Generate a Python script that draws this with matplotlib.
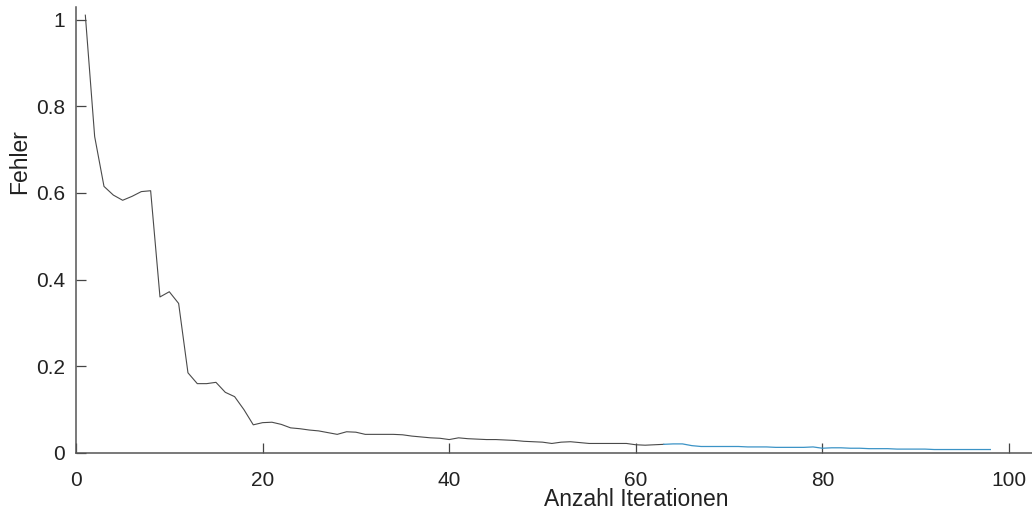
import numpy as np
import matplotlib
matplotlib.use("Agg")
import matplotlib.pyplot as plt

plt.rcParams['font.family'] = ['Liberation Sans', 'DejaVu Sans']

# Fehler pro Iteration (Iterationen 1..98)
iterations = np.arange(1, 99)
fehler = [
    1.01, 0.73, 0.615, 0.595, 0.583, 0.592, 0.603, 0.605, 0.36, 0.372,
    0.345, 0.185, 0.16, 0.16, 0.163, 0.14, 0.13, 0.10, 0.065, 0.07,
    0.071, 0.066, 0.058, 0.056, 0.053, 0.051, 0.047, 0.043, 0.049, 0.048,
    0.043, 0.043, 0.043, 0.043, 0.042, 0.039, 0.037, 0.035, 0.034, 0.031,
    0.035, 0.033, 0.032, 0.031, 0.031, 0.030, 0.029, 0.027, 0.026, 0.025,
    0.022, 0.025, 0.026, 0.024, 0.022, 0.022, 0.022, 0.022, 0.022, 0.019,
    0.018, 0.019, 0.020, 0.021, 0.021, 0.017, 0.015, 0.015, 0.015, 0.015,
    0.015, 0.014, 0.014, 0.014, 0.013, 0.013, 0.013, 0.013, 0.014, 0.011,
    0.012, 0.012, 0.011, 0.011, 0.010, 0.010, 0.010, 0.009, 0.009, 0.009,
    0.009, 0.008, 0.008, 0.008, 0.008, 0.008, 0.008, 0.008,
]
fehler = np.array(fehler)
split_iter = 63  # ab hier in Blau gezeichnet

x_ticks = [0, 20, 40, 60, 80, 100]
y_ticks = [0, 0.2, 0.4, 0.6, 0.8, 1]
y_tick_labels = ['0', '0.2', '0.4', '0.6', '0.8', '1']

# Figur in Pixeln aufbauen
W, H = 1032, 513
fig = plt.figure(figsize=(W / 100, H / 100), dpi=100)
left, bottom, top, right = 76, 453, 6.5, 1032
ax = fig.add_axes([left / W, (H - bottom) / H, (right - left) / W, (bottom - top) / H])

m = iterations <= split_iter
ax.plot(iterations[m], fehler[m], color='#4a4a4a', lw=0.8)
m2 = iterations >= split_iter
ax.plot(iterations[m2], fehler[m2], color='#3b93c6', lw=0.9)

ax.set_xlim(0, (right - left) / 9.33)
ax.set_ylim(0, 1.03)
ax.set_xticks(x_ticks)
ax.set_yticks(y_ticks)
ax.set_yticklabels(y_tick_labels)

for s in ['top', 'right']:
    ax.spines[s].set_visible(False)
for s in ['left', 'bottom']:
    ax.spines[s].set_color('#555555')
    ax.spines[s].set_linewidth(1.1)

ax.tick_params(axis='both', direction='in', length=7, width=0.9, color='#444444',
               labelsize=15, labelcolor='#222222')
ax.tick_params(axis='x', pad=13)
ax.tick_params(axis='y', pad=8)

ax.set_xlabel('Anzahl Iterationen', fontsize=16.5, color='#222222')
ax.set_ylabel('Fehler', fontsize=16.5, color='#222222')
ax.xaxis.set_label_coords((636.5 - left) / (right - left), -(500 - bottom) / (bottom - top))
ax.xaxis.label.set_va('center')
ax.yaxis.set_label_coords((20 - left) / (right - left), (bottom - 162) / (bottom - top))
ax.yaxis.label.set_va('center')

fig.savefig('out.png', dpi=100)
